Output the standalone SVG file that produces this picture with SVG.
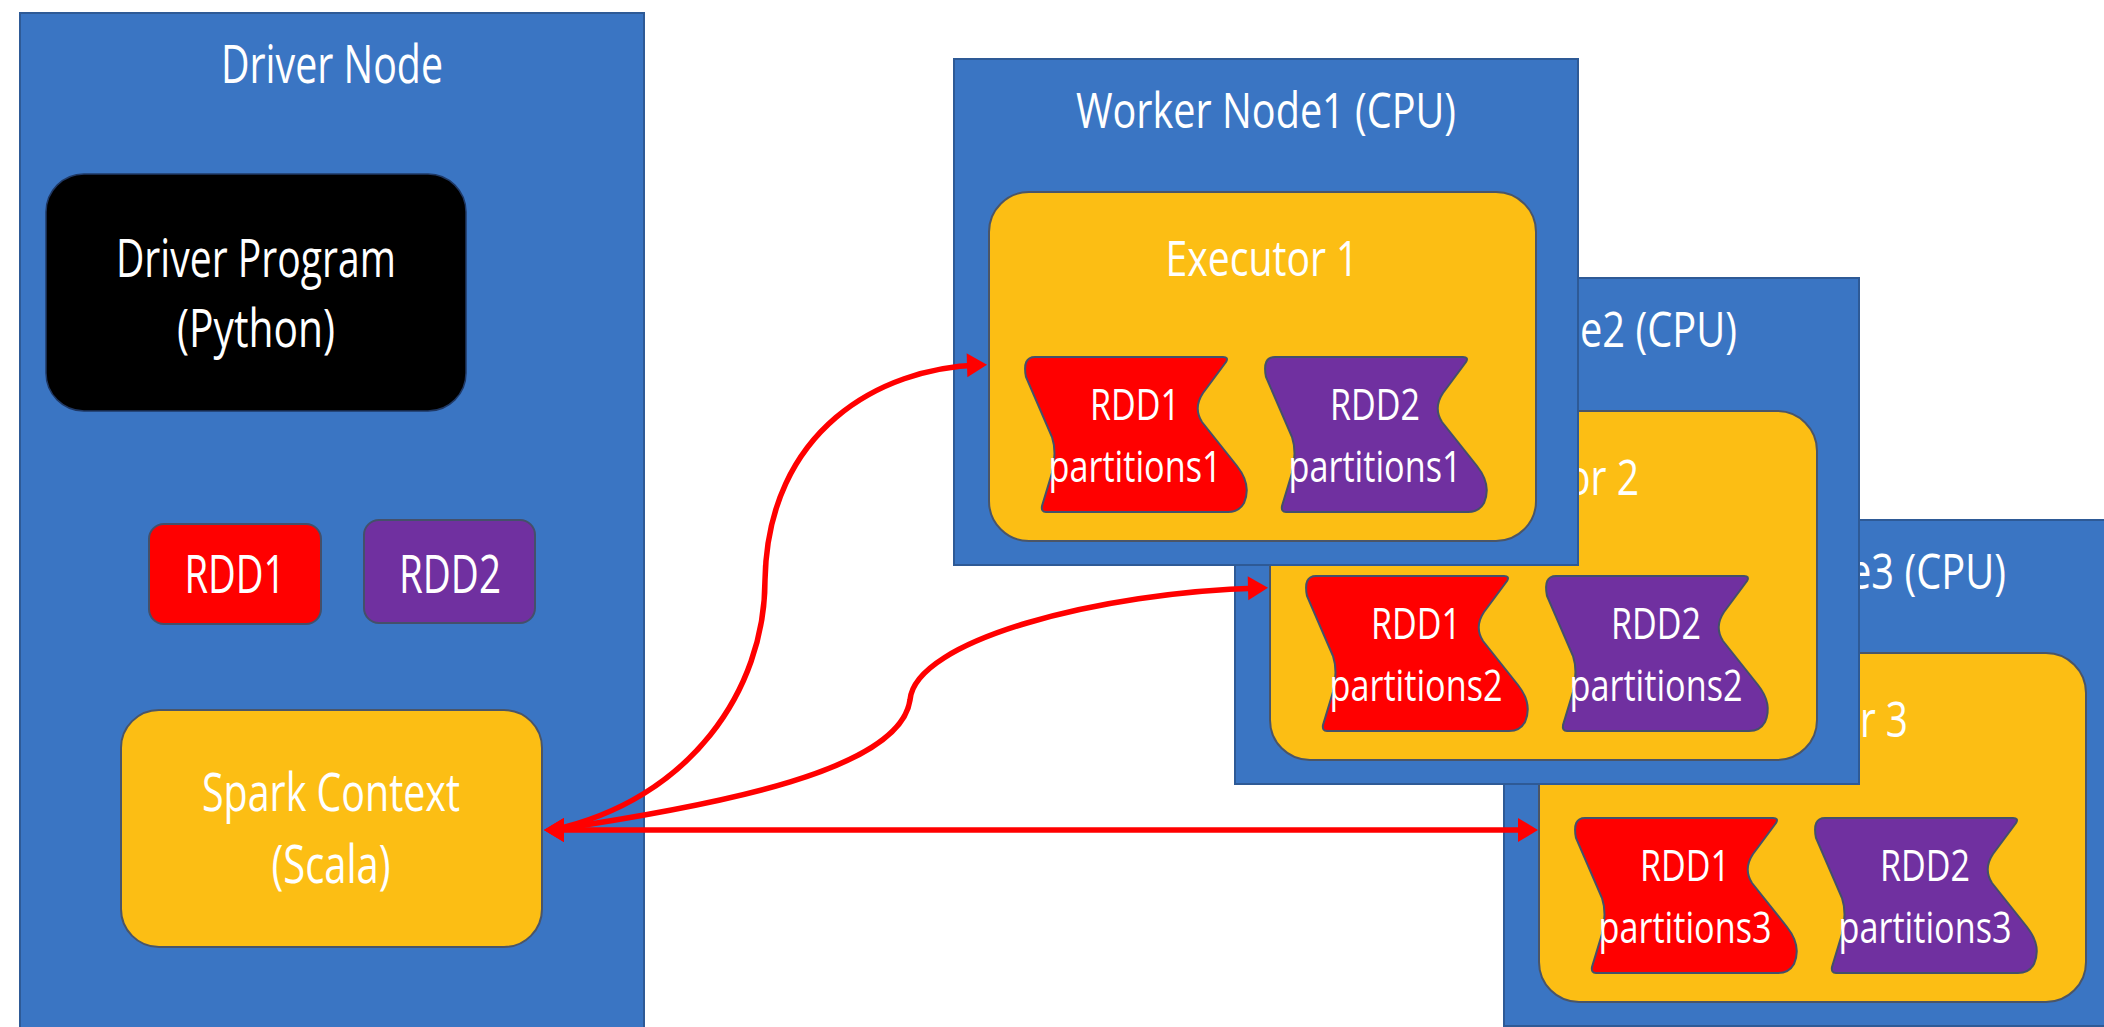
<svg xmlns="http://www.w3.org/2000/svg" xmlns:xlink="http://www.w3.org/1999/xlink" width="2104" height="1027" viewBox="0 0 2104 1027">
  <style>
    text { font-family: "Open Sans", "Liberation Sans", sans-serif; fill: #ffffff; text-anchor: middle; }
    .end { text-anchor: end; }
    .node { fill: #3A75C3; stroke: #2E5A96; stroke-width: 2; }
    .exec { fill: #FCBE14; stroke: #4A5568; stroke-width: 2; }
    .prog { fill: #000000; stroke: #1F3864; stroke-width: 1.5; }
    .rdd1 { fill: #FF0000; stroke: #44506A; stroke-width: 2; }
    .rdd2 { fill: #7030A0; stroke: #44506A; stroke-width: 2; }
    .title { font-size: 49px; }
    .big { font-size: 53px; }
    .exlabel { font-size: 50px; }
    .part { font-size: 44px; }
    .conn { fill: none; stroke: #FF0000; stroke-width: 5.5; }
  </style>
  <defs>
    <path id="wave" d="M10,0 L198,0 Q204,0 201,5 L178,36 Q168,51 177,65 L212,109 Q227,128 219,146 Q214,155 203,155 L21,155 Q16,155 17,149 L27,116 Q32,95 27,80 L1,20 Q-3,0 10,0 Z"/>
    <marker id="headEnd" markerUnits="userSpaceOnUse" markerWidth="20" markerHeight="24" refX="12" refY="12" orient="auto" overflow="visible">
      <path d="M0,0 L20,12 L0,24 Z" fill="#FF0000"/>
    </marker>
    <marker id="headStart" markerUnits="userSpaceOnUse" markerWidth="20" markerHeight="24" refX="8" refY="12" orient="0" overflow="visible">
      <path d="M20,0 L0,12 L20,24 Z" fill="#FF0000"/>
    </marker>
  </defs>

  <rect x="0" y="0" width="2104" height="1027" fill="#ffffff"/>

  <!-- Driver node -->
  <g id="driver-node">
    <rect class="node" x="20" y="13" width="624" height="1016"/>
    <text class="big" x="332" y="83" textLength="222" lengthAdjust="spacingAndGlyphs">Driver Node</text>
    <g id="driver-program">
      <rect class="prog" x="46" y="174" width="420" height="237" rx="38" ry="38"/>
      <text class="big" x="256" y="277" font-size="52" textLength="280" lengthAdjust="spacingAndGlyphs">Driver Program</text>
      <text class="big" x="256" y="347" font-size="52" textLength="158" lengthAdjust="spacingAndGlyphs">(Python)</text>
    </g>
    <g id="driver-rdd1">
      <rect class="rdd1" x="149" y="524" width="172" height="100" rx="15" ry="15"/>
      <text class="big" x="235" y="593" textLength="101" lengthAdjust="spacingAndGlyphs">RDD1</text>
    </g>
    <g id="driver-rdd2">
      <rect class="rdd2" x="364" y="520" width="171" height="103" rx="15" ry="15"/>
      <text class="big" x="450" y="593" textLength="102" lengthAdjust="spacingAndGlyphs">RDD2</text>
    </g>
    <g id="spark-context">
      <rect class="exec" x="121" y="710" width="421" height="237" rx="38" ry="38"/>
      <text class="big" x="331" y="811" textLength="258" lengthAdjust="spacingAndGlyphs">Spark Context</text>
      <text class="big" x="331" y="883" textLength="119" lengthAdjust="spacingAndGlyphs">(Scala)</text>
    </g>
  </g>

  <!-- Worker node 3 (back, partly hidden) -->
  <g id="worker-node-3" transform="translate(1504,520)">
    <rect class="node" x="0" y="0" width="604" height="506"/>
    <text class="title end" x="502" y="69" textLength="157" lengthAdjust="spacingAndGlyphs">e3 (CPU)</text>
    <g id="executor-3">
      <rect class="exec" x="35" y="133" width="547" height="349" rx="40" ry="40"/>
      <text class="exlabel end" x="404" y="217" textLength="48" lengthAdjust="spacingAndGlyphs">r 3</text>
      <use xlink:href="#wave" class="rdd1" x="71" y="298"/>
      <text class="part" x="181" y="361" textLength="90" lengthAdjust="spacingAndGlyphs">RDD1</text>
      <text class="part" x="181" y="423" textLength="173" lengthAdjust="spacingAndGlyphs">partitions3</text>
      <use xlink:href="#wave" class="rdd2" x="311" y="298"/>
      <text class="part" x="421" y="361" textLength="90" lengthAdjust="spacingAndGlyphs">RDD2</text>
      <text class="part" x="421" y="423" textLength="173" lengthAdjust="spacingAndGlyphs">partitions3</text>
    </g>
  </g>

  <!-- Worker node 2 (middle, partly hidden) -->
  <g id="worker-node-2" transform="translate(1235,278)">
    <rect class="node" x="0" y="0" width="624" height="506"/>
    <text class="title end" x="502" y="69" textLength="157" lengthAdjust="spacingAndGlyphs">e2 (CPU)</text>
    <g id="executor-2">
      <rect class="exec" x="35" y="133" width="547" height="349" rx="40" ry="40"/>
      <text class="exlabel end" x="404" y="217" textLength="72" lengthAdjust="spacingAndGlyphs">or 2</text>
      <use xlink:href="#wave" class="rdd1" x="71" y="298"/>
      <text class="part" x="181" y="361" textLength="90" lengthAdjust="spacingAndGlyphs">RDD1</text>
      <text class="part" x="181" y="423" textLength="173" lengthAdjust="spacingAndGlyphs">partitions2</text>
      <use xlink:href="#wave" class="rdd2" x="311" y="298"/>
      <text class="part" x="421" y="361" textLength="90" lengthAdjust="spacingAndGlyphs">RDD2</text>
      <text class="part" x="421" y="423" textLength="173" lengthAdjust="spacingAndGlyphs">partitions2</text>
    </g>
  </g>

  <!-- Worker node 1 (front) -->
  <g id="worker-node-1" transform="translate(954,59)">
    <rect class="node" x="0" y="0" width="624" height="506"/>
    <text class="title" x="312" y="69" textLength="380" lengthAdjust="spacingAndGlyphs">Worker Node1 (CPU)</text>
    <g id="executor-1">
      <rect class="exec" x="35" y="133" width="547" height="349" rx="40" ry="40"/>
      <text class="exlabel" x="308" y="217" textLength="193" lengthAdjust="spacingAndGlyphs">Executor 1</text>
      <use xlink:href="#wave" class="rdd1" x="71" y="298"/>
      <text class="part" x="181" y="361" textLength="90" lengthAdjust="spacingAndGlyphs">RDD1</text>
      <text class="part" x="181" y="423" textLength="173" lengthAdjust="spacingAndGlyphs">partitions1</text>
      <use xlink:href="#wave" class="rdd2" x="311" y="298"/>
      <text class="part" x="421" y="361" textLength="90" lengthAdjust="spacingAndGlyphs">RDD2</text>
      <text class="part" x="421" y="423" textLength="173" lengthAdjust="spacingAndGlyphs">partitions1</text>
    </g>
  </g>

  <!-- Connectors -->
  <g id="connectors">
    <path class="conn" d="M552,830 C690,800 765,690 765,580 C768,430 880,368 979,365" marker-start="url(#headStart)" marker-end="url(#headEnd)"/>
    <path class="conn" d="M552,830 C720,805 900,770 910,700 C915,640 1100,592 1260,588" marker-start="url(#headStart)" marker-end="url(#headEnd)"/>
    <path class="conn" d="M552,830 L1530,830" marker-start="url(#headStart)" marker-end="url(#headEnd)"/>
  </g>
</svg>
